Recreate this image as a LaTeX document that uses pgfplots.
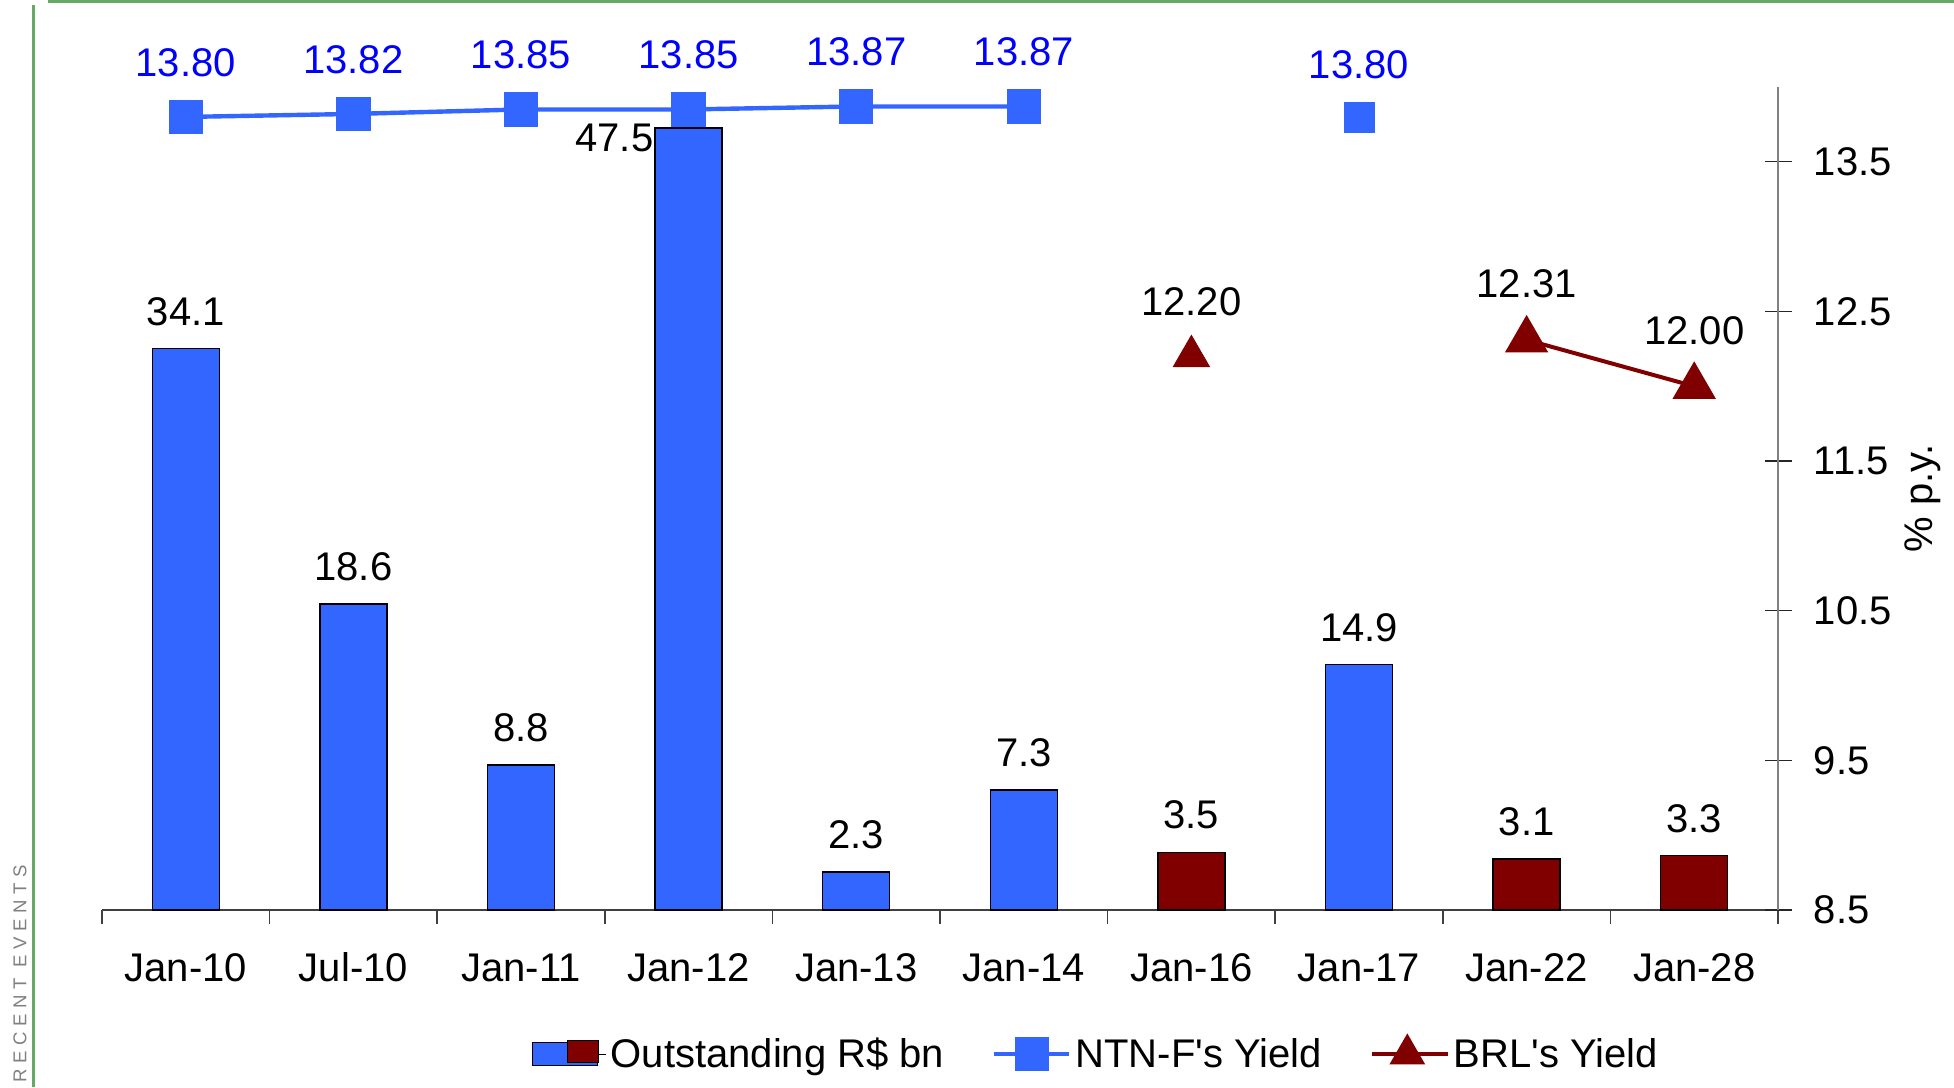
\documentclass[border=0pt]{standalone}
\usepackage{fontspec}
\setmainfont{Liberation Sans}
\newfontfamily\spacedfont[LetterSpace=30]{Liberation Sans}
\newfontfamily\aposfont{Liberation Sans}
\usepackage{pgfplots}
\pgfplotsset{compat=1.18}
\definecolor{barblue}{HTML}{3366FF}
\definecolor{barred}{HTML}{800000}
\definecolor{labblue}{HTML}{0000FF}
\definecolor{framegreen}{HTML}{66A866}
\newcommand{\bigf}{\fontsize{20}{24}\selectfont}
\newcommand{\ap}{{\aposfont'}}
\pgfplotsset{
  ntnlegend/.style={legend image code/.code={\draw[mark repeat=2,mark phase=2,##1] plot coordinates {(0pt,0pt) (18.75pt,0pt) (37.5pt,0pt)};}},
  brllegend/.style={legend image code/.code={\path (0pt,0pt) -- (38pt,0pt);\draw[mark repeat=2,mark phase=2,##1,mark size=8.3pt] plot coordinates {(0pt,0pt) (17.75pt,0pt) (35.5pt,0pt)};}},
  mybarlegend/.style={legend image code/.code={
      \path (0pt,0pt) -- (37pt,0pt);
      \draw[fill=barblue,draw=black,line width=0.7pt] (0pt,-5.75pt) rectangle (32.5pt,5.75pt);
      \draw[fill=barred,draw=black,line width=0.7pt] (17.5pt,-4.25pt) rectangle (33pt,6.75pt);}},
}
\begin{document}
\begin{tikzpicture}
\useasboundingbox (0,0) rectangle (977pt,543.5pt);
\draw[framegreen, line width=1.3pt] (16.75pt,0pt) -- (16.75pt,541pt);
\draw[framegreen, line width=1.6pt] (24pt,542.7pt) -- (977pt,542.7pt);
\node[rotate=90, text=gray, font=\spacedfont\fontsize{9.3}{11}\selectfont, inner sep=0pt] at (10pt,56.5pt) {RECENT EVENTS};

% ---- bars (left, hidden axis) ----
\begin{axis}[
  at={(51pt,88.5pt)}, anchor=south west, scale only axis,
  width=838pt, height=411.5pt,
  xmin=-0.5, xmax=9.5, ymin=0, ymax=50,
  axis y line=none, axis x line*=bottom,
  x axis line style={black!75, line width=0.8pt},
  xtick={0,...,9},
  xticklabels={Jan-10,Jul-10,Jan-11,Jan-12,Jan-13,Jan-14,Jan-16,Jan-17,Jan-22,Jan-28},
  minor xtick={-0.5,0.5,...,9.5},
  major tick length=0pt, minor tick length=7pt, tick align=outside,
  minor tick style={black!75, line width=0.8pt},
  xticklabel style={font=\bigf, anchor=base, inner sep=0pt, yshift=-35.5pt},
  ybar, bar width=33.5pt, bar shift=0pt,
  clip=false,
]
\addplot[ybar, bar shift=0pt, fill=barblue, draw=black, line width=0.7pt,
  nodes near coords, point meta=explicit symbolic,
  nodes near coords style={font=\bigf, text=black, inner sep=0pt, yshift=11.2pt}]
  coordinates {(0,34.1)[34.1] (1,18.6)[18.6] (2,8.8)[8.8] (4,2.3)[2.3] (5,7.3)[7.3] (7,14.9)[14.9]};
\addplot[ybar, bar shift=0pt, fill=barblue, draw=black, line width=0.7pt]
  coordinates {(3,47.5)};
\addplot[ybar, bar shift=0pt, fill=barred, draw=black, line width=0.7pt,
  nodes near coords, point meta=explicit symbolic,
  nodes near coords style={font=\bigf, text=black, inner sep=0pt, yshift=11.2pt}]
  coordinates {(6,3.5)[3.5] (8,3.1)[3.1] (9,3.3)[3.3]};
\node[font=\bigf, inner sep=0pt] at (axis cs:2.557,46.9) {47.5};
\end{axis}

% ---- yields (right axis) ----
\begin{axis}[
  at={(51pt,88.5pt)}, anchor=south west, scale only axis,
  width=838pt, height=411.5pt,
  xmin=-0.5, xmax=9.5, ymin=8.5, ymax=14.0,
  axis x line=none, axis y line*=right,
  y axis line style={black!50, line width=0.8pt},
  ytick={8.5,9.5,10.5,11.5,12.5,13.5},
  tick align=center, major tick length=13.5pt,
  ytick style={black!85, line width=0.6pt},
  /pgf/number format/assume math mode=true,
  yticklabel style={font=\bigf, anchor=west, inner sep=0pt, xshift=11pt},
  ylabel={\% p.y.},
  ylabel style={font=\bigf, at={(axis description cs:1.0865,0.5)}, anchor=center},
  clip=false,
  legend style={at={(axis description cs:0.5935,-0.175)}, anchor=center,
    draw=none, fill=none, legend columns=3, font=\bigf,
    nodes={inner sep=2pt},
    /tikz/every even column/.append style={column sep=22pt}},
]
\addlegendimage{mybarlegend}
\addlegendentry{Outstanding R\$ bn}
\addplot[ntnlegend, barblue, line width=2.2pt, mark=square*, mark size=7.5pt, mark options={solid},
  nodes near coords, point meta=explicit symbolic,
  nodes near coords style={font=\bigf, text=labblue, inner sep=0pt, yshift=19pt}]
  coordinates {(0,13.80)[13.80] (1,13.82)[13.82] (2,13.85)[13.85] (3,13.85)[13.85] (4,13.87)[13.87] (5,13.87)[13.87]};
\addlegendentry{NTN-F\ap s Yield}
\addplot[forget plot, only marks, barblue, mark=square*, mark size=7.5pt,
  nodes near coords, point meta=explicit symbolic,
  nodes near coords style={font=\bigf, text=labblue, inner sep=0pt, yshift=19pt}]
  coordinates {(7,13.80)[13.80]};
\addplot[brllegend, barred, line width=2pt, mark=triangle*, mark size=10.5pt, mark options={solid},
  nodes near coords, point meta=explicit symbolic,
  nodes near coords style={font=\bigf, text=black, inner sep=0pt, yshift=19.8pt}]
  coordinates {(8,12.31)[12.31] (9,12.00)[12.00]};
\addlegendentry{BRL\ap s Yield}
\addplot[forget plot, only marks, barred, mark=triangle*, mark size=10.5pt,
  nodes near coords, point meta=explicit symbolic,
  nodes near coords style={font=\bigf, text=black, inner sep=0pt, yshift=19.8pt}]
  coordinates {(6,12.20)[12.20]};
\end{axis}
\end{tikzpicture}
\end{document}
